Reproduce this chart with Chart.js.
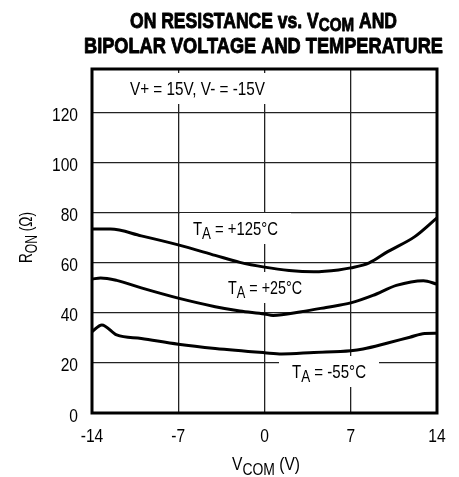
<!DOCTYPE html>
<html>
<head>
<meta charset="utf-8">
<script src="https://cdn.jsdelivr.net/npm/chart.js@4"></script>
<style>
html, body { margin: 0; padding: 0; background: #fff; }
</style>
</head>
<body>
<canvas id="chart" width="459" height="477"></canvas>
<script>
// curve data
const x125 = [-14, -12.5, -10, -7, -4, -2, 0, 2, 4, 6, 7, 8.5, 10, 12.2, 14];
const y125 = [73.5, 73.5, 70.8, 67.2, 63, 60.2, 58.3, 57, 56.5, 57.2, 58, 60, 64.5, 70.5, 78];

const x25 = [-14, -13.3, -12, -10, -7, -4, -2, 0, 0.7, 3, 5, 7, 8.8, 10.7, 12.9, 14];
const y25 = [53.5, 54, 53, 50, 45.9, 42.5, 40.8, 39.6, 39, 40.5, 42.2, 44, 47, 51, 52.9, 51.5];

const xm55 = [-14, -13.2, -12, -10, -7, -4, 0, 1.4, 4, 7, 8, 10, 11.8, 13, 14];
const ym55 = [32.5, 35.2, 31.2, 29.8, 27.5, 25.8, 24.1, 23.6, 24.2, 24.9, 25.6, 28, 30.3, 31.8, 31.9];

const xTicks = [-14, -7, 0, 7, 14];
const yTicks = [0, 20, 40, 60, 80, 100, 120];

const FONT = '"Liberation Sans", Arial, sans-serif';
const NARROW = 0.82;

function pts(xs, ys) {
    return xs.map((x, i) => ({ x: x, y: ys[i] }));
}

function partsWidth(ctx, parts, size, subSize, weight) {
    let w = 0;
    parts.forEach(p => {
        ctx.font = weight + ' ' + (p[1] ? subSize : size) + 'px ' + FONT;
        w += ctx.measureText(p[0]).width;
    });
    return w;
}
// draws text with subscripts, squeezed to the given width
function drawParts(ctx, parts, x, y, width, size, subSize, subOff, weight, heavy) {
    const nat = partsWidth(ctx, parts, size, subSize, weight);
    ctx.save();
    ctx.translate(x, y);
    ctx.scale(width / nat, 1);
    ctx.textBaseline = 'alphabetic';
    ctx.textAlign = 'left';
    ctx.strokeStyle = '#000';
    ctx.lineWidth = heavy || 0;
    ctx.lineJoin = 'round';
    let cx = 0;
    parts.forEach(p => {
        ctx.font = weight + ' ' + (p[1] ? subSize : size) + 'px ' + FONT;
        ctx.fillText(p[0], cx, p[1] ? subOff : 0);
        if (heavy) ctx.strokeText(p[0], cx, p[1] ? subOff : 0);
        cx += ctx.measureText(p[0]).width;
    });
    ctx.restore();
}
function drawNarrow(ctx, text, x, y, align) {
    ctx.save();
    ctx.font = '19px ' + FONT;
    const w = ctx.measureText(text).width * NARROW;
    let left = x;
    if (align === 'right') left = x - w;
    if (align === 'center') left = x - w / 2;
    ctx.translate(left, y);
    ctx.scale(NARROW, 1);
    ctx.textAlign = 'left';
    ctx.textBaseline = 'alphabetic';
    ctx.fillText(text, 0, 0);
    ctx.restore();
}

const labels = [
    { parts: [['V+ = 15V, V- = -15V', 0]], x: 130, y: 95, w: 135 },
    { parts: [['T', 0], ['A', 1], [' = +125°C', 0]], x: 193, y: 235, w: 85 },
    { parts: [['T', 0], ['A', 1], [' = +25°C', 0]], x: 228, y: 294, w: 74 },
    { parts: [['T', 0], ['A', 1], [' = -55°C', 0]], x: 292, y: 378, w: 74 }
];

const textPlugin = {
    id: 'texts',
    beforeDatasetsDraw(chart) {
        const ctx = chart.ctx;
        ctx.save();
        labels.forEach(l => {
            ctx.fillStyle = '#fff';
            ctx.fillRect(l.x - 13, l.y - 22, l.w + 26, 31);
            ctx.fillStyle = '#000';
            drawParts(ctx, l.parts, l.x, l.y, l.w, 19, 17, 4, 'normal');
        });
        ctx.restore();
    },
    afterDatasetsDraw(chart) {
        const ctx = chart.ctx;
        const a = chart.chartArea;
        const xs = chart.scales.x, ys = chart.scales.y;
        ctx.save();
        ctx.strokeStyle = '#000';
        ctx.lineWidth = 3;
        ctx.strokeRect(a.left, a.top, a.right - a.left, a.bottom - a.top);

        ctx.fillStyle = '#000';
        // tick labels
        yTicks.forEach(v => drawNarrow(ctx, String(v), 78, ys.getPixelForValue(v) + 8.5, 'right'));
        xTicks.forEach(v => drawNarrow(ctx, String(v), xs.getPixelForValue(v), 442, 'center'));

        // title
        drawParts(ctx, [['ON RESISTANCE vs. V', 0], ['COM', 1], [' AND', 0]], 130, 28, 267, 22, 19, 3, 'bold', 0.9);
        drawParts(ctx, [['BIPOLAR VOLTAGE AND TEMPERATURE', 0]], 84, 53, 359, 22, 19, 3, 'bold', 0.9);

        // axis titles
        drawParts(ctx, [['V', 0], ['COM', 1], [' (V)', 0]], 232, 470, 68, 19, 17, 5, 'normal');
        ctx.translate(32, 263);
        ctx.rotate(-Math.PI / 2);
        drawParts(ctx, [['R', 0], ['ON', 1], [' (Ω)', 0]], 0, 0, 51, 19, 17, 5, 'normal');
        ctx.restore();
    }
};

const lineStyle = {
    borderColor: '#000',
    borderWidth: 3,
    pointRadius: 0,
    fill: false,
    cubicInterpolationMode: 'monotone'
};

const ctx = document.getElementById('chart').getContext('2d');
const chart = new Chart(ctx, {
    type: 'line',
    data: {
        datasets: [
            Object.assign({ label: '+125°C', data: pts(x125, y125) }, lineStyle),
            Object.assign({ label: '+25°C', data: pts(x25, y25) }, lineStyle),
            Object.assign({ label: '-55°C', data: pts(xm55, ym55) }, lineStyle)
        ]
    },
    options: {
        responsive: false,
        animation: false,
        layout: { padding: { left: 0, right: 22, top: 69, bottom: 0 } },
        plugins: {
            legend: { display: false },
            tooltip: { enabled: false }
        },
        scales: {
            x: {
                type: 'linear',
                min: -14,
                max: 14,
                afterFit(scale) { scale.height = 64; },
                afterBuildTicks(scale) { scale.ticks = xTicks.map(v => ({ value: v })); },
                grid: { color: '#222', lineWidth: 1.3, drawTicks: false },
                border: { display: false },
                ticks: { display: false }
            },
            y: {
                min: 0,
                max: 137.5,
                afterFit(scale) { scale.width = 92; },
                afterBuildTicks(scale) { scale.ticks = yTicks.map(v => ({ value: v })); },
                grid: { color: '#222', lineWidth: 1.3, drawTicks: false },
                border: { display: false },
                ticks: { display: false }
            }
        }
    },
    plugins: [textPlugin]
});
</script>
</body>
</html>
